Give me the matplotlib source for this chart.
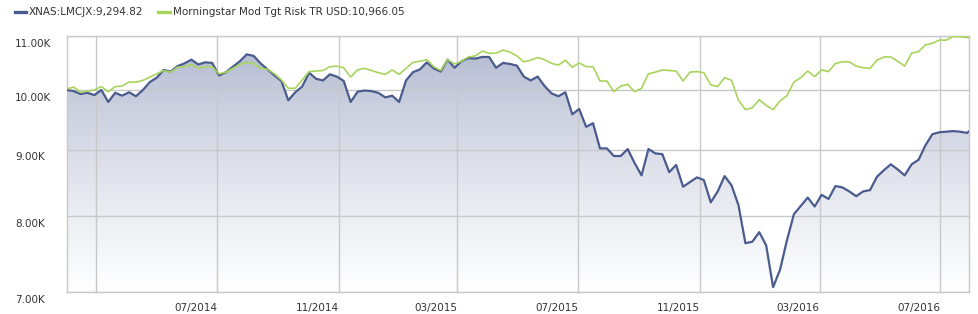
import matplotlib
matplotlib.use("Agg")
import matplotlib.pyplot as plt
import matplotlib.dates as mdates
from matplotlib.lines import Line2D
from matplotlib.ticker import NullLocator, FixedLocator
import matplotlib.transforms as mtransforms
import numpy as np
import pandas as pd

# ---------------- data ----------------
start_date = "2014-01-30"
n_weeks = 131
end_date = "2016-07-30"

fund_name = "XNAS:LMCJX:9,294.82"
bench_name = "Morningstar Mod Tgt Risk TR USD:10,966.05"

fund = [10.00, 9.98, 9.93, 9.95, 9.91, 10.00, 9.79, 9.95, 9.90, 9.96,
        9.89, 10.00, 10.14, 10.22, 10.36, 10.33, 10.43, 10.48, 10.55, 10.46,
        10.50, 10.49, 10.26, 10.32, 10.42, 10.52, 10.65, 10.62, 10.48, 10.37,
        10.26, 10.16, 9.82, 9.96, 10.06, 10.31, 10.20, 10.17, 10.28, 10.24,
        10.16, 9.79, 9.97, 9.99, 9.98, 9.95, 9.87, 9.90, 9.79, 10.17,
        10.32, 10.37, 10.50, 10.39, 10.33, 10.55, 10.40, 10.52, 10.58, 10.57,
        10.60, 10.60, 10.40, 10.49, 10.47, 10.44, 10.24, 10.17, 10.24, 10.07,
        9.94, 9.89, 9.96, 9.58, 9.67, 9.37, 9.43, 9.02, 9.02, 8.90,
        8.90, 9.01, 8.79, 8.60, 9.01, 8.94, 8.93, 8.65, 8.76, 8.43,
        8.50, 8.57, 8.53, 8.20, 8.36, 8.59, 8.45, 8.16, 7.63, 7.65,
        7.78, 7.60, 7.06, 7.28, 7.67, 8.03, 8.15, 8.27, 8.14, 8.31,
        8.25, 8.44, 8.42, 8.36, 8.29, 8.36, 8.38, 8.58, 8.68, 8.77,
        8.69, 8.60, 8.77, 8.84, 9.07, 9.25, 9.28, 9.29, 9.30, 9.29,
        9.27, 9.29482]

bench = [10.02, 10.05, 9.96, 9.98, 10.00, 10.06, 9.97, 10.06, 10.07, 10.14,
         10.14, 10.17, 10.23, 10.29, 10.35, 10.32, 10.41, 10.42, 10.46, 10.39,
         10.42, 10.42, 10.29, 10.32, 10.39, 10.46, 10.50, 10.48, 10.39, 10.37,
         10.29, 10.18, 10.03, 10.03, 10.18, 10.33, 10.34, 10.35, 10.42, 10.43,
         10.40, 10.23, 10.36, 10.39, 10.35, 10.31, 10.28, 10.36, 10.28, 10.39,
         10.50, 10.52, 10.55, 10.42, 10.35, 10.55, 10.47, 10.52, 10.60, 10.62,
         10.71, 10.67, 10.67, 10.73, 10.69, 10.62, 10.51, 10.54, 10.59, 10.55,
         10.48, 10.45, 10.54, 10.41, 10.49, 10.42, 10.42, 10.16, 10.16, 9.97,
         10.07, 10.10, 9.97, 10.03, 10.29, 10.32, 10.36, 10.35, 10.34, 10.16,
         10.32, 10.33, 10.31, 10.09, 10.06, 10.22, 10.17, 9.82, 9.66, 9.69,
         9.83, 9.73, 9.66, 9.81, 9.90, 10.14, 10.22, 10.34, 10.24, 10.36,
         10.33, 10.48, 10.51, 10.51, 10.43, 10.40, 10.39, 10.54, 10.60, 10.60,
         10.52, 10.43, 10.67, 10.70, 10.83, 10.86, 10.92, 10.92, 10.99, 10.99,
         10.97, 10.96605]

y_ticks = [7000, 8000, 9000, 10000, 11000]
y_labels = ["7.00K", "8.00K", "9.00K", "10.00K", "11.00K"]
x_ticks = ["2014-03-01", "2014-07-01", "2014-11-01", "2015-03-01",
           "2015-07-01", "2015-11-01", "2016-03-01", "2016-07-01"]
x_labels = ["", "07/2014", "11/2014", "03/2015", "07/2015", "11/2015",
            "03/2016", "07/2016"]

# ---------------- build ----------------
dates = list(pd.date_range(start_date, periods=n_weeks, freq="7D")) + [pd.Timestamp(end_date)]
dates = pd.to_datetime(dates)
fund_v = np.array(fund) * 1000
bench_v = np.array(bench) * 1000

W, H = 979, 314
fig = plt.figure(figsize=(W / 100, H / 100), dpi=100)
fig.patch.set_facecolor("white")
ax = fig.add_axes([66.7 / W, 1 - 292 / H, (969 - 66.7) / W, (292 - 36) / H])
ax.set_facecolor("white")

FS = 7.5
TXT = "#333333"
GRID = "#c8c8c8"
BLUE = "#4a5b8e"
GREEN = "#a8d45c"

ax.set_yscale("log")
ax.set_ylim(7000, 11000)
ax.set_xlim(dates[0], dates[-1])

# gradient fill under fund line
poly = ax.fill_between(dates, fund_v, 7000, facecolor="none", edgecolor="none")
top = np.array([168, 176, 201]) / 255.0
t = np.linspace(0, 1, 256) ** 0.7  # 0 at top -> 1 at bottom
cols = top[None, :] * (1 - t[:, None]) + np.ones(3)[None, :] * t[:, None]
grad = cols[:, None, :]
im = ax.imshow(grad, extent=[0, 1, 0, 1], transform=ax.transAxes,
               aspect="auto", zorder=1, interpolation="bilinear")
paths = poly.get_paths()
im.set_clip_path(paths[0], transform=ax.transData)

ax.plot(dates, fund_v, color=BLUE, lw=1.6, zorder=3, solid_joinstyle="round")
ax.plot(dates, bench_v, color=GREEN, lw=1.2, zorder=4, solid_joinstyle="round")

ax.set_xlim(dates[0], dates[-1])
ax.set_ylim(7000, 11000)

# grid
ax.yaxis.set_major_locator(FixedLocator(y_ticks))
ax.yaxis.set_minor_locator(NullLocator())
ax.set_yticklabels([])
xt = [mdates.date2num(pd.Timestamp(d)) for d in x_ticks]
ax.set_xticks(xt)
ax.set_xticklabels(x_labels, fontsize=FS, color=TXT, ha="right")
ax.xaxis.set_minor_locator(NullLocator())
ax.tick_params(axis="both", length=0)
ax.tick_params(axis="x", pad=8)
ax.grid(True, color=GRID, lw=1.0)
ax.set_axisbelow("line")
for s in ax.spines.values():
    s.set_color(GRID)
    s.set_linewidth(1.0)

# y labels: left aligned at x=16px, just below each gridline
blend = mtransforms.blended_transform_factory(fig.transFigure, ax.transData)
for v, lab in zip(y_ticks, y_labels):
    ax.annotate(lab, xy=(15 / W, v), xycoords=blend, xytext=(0, -2),
                textcoords="offset points", ha="left", va="top",
                fontsize=FS, color=TXT, annotation_clip=False)

# legend
ly = 1 - 12 / H
fig.add_artist(Line2D([15 / W, 26 / W], [ly, ly], color=BLUE, lw=2.4,
                      transform=fig.transFigure))
fig.text(29 / W, ly, fund_name, fontsize=FS, color=TXT, ha="left", va="center")
fig.add_artist(Line2D([158 / W, 170 / W], [ly, ly], color=GREEN, lw=2.4,
                      transform=fig.transFigure))
fig.text(173 / W, ly, bench_name, fontsize=FS, color=TXT, ha="left", va="center")

fig.savefig("out.png", dpi=100, facecolor="white")
